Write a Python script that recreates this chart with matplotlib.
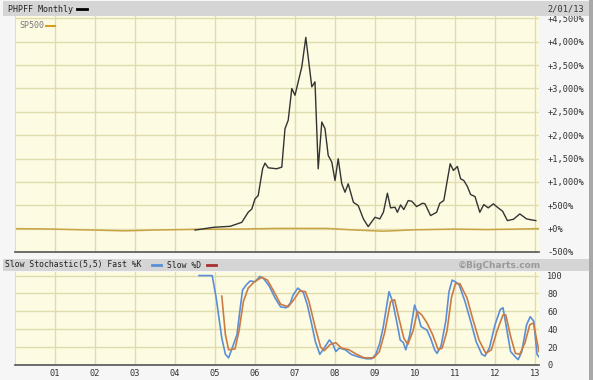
import matplotlib
matplotlib.use("Agg")
import matplotlib.pyplot as plt
from matplotlib.patches import Rectangle
from matplotlib.ticker import FixedLocator, FuncFormatter

# PHPFF monthly, % change
phpff_t = [2004.50, 2004.96, 2005.38, 2005.67, 2005.83, 2005.92, 2006.00, 2006.08,
           2006.19, 2006.25, 2006.33, 2006.54, 2006.67, 2006.75, 2006.83, 2006.92,
           2007.00, 2007.17, 2007.27, 2007.42, 2007.50, 2007.58, 2007.67, 2007.75,
           2007.83, 2007.92, 2008.00, 2008.08, 2008.17, 2008.25, 2008.33, 2008.46,
           2008.58, 2008.71, 2008.83, 2009.00, 2009.12, 2009.21, 2009.31, 2009.39,
           2009.50, 2009.56, 2009.64, 2009.72, 2009.83, 2009.92, 2010.04, 2010.19,
           2010.25, 2010.39, 2010.54, 2010.62, 2010.72, 2010.88, 2010.96, 2011.06,
           2011.14, 2011.22, 2011.31, 2011.39, 2011.50, 2011.62, 2011.72, 2011.83,
           2011.96, 2012.06, 2012.19, 2012.31, 2012.46, 2012.62, 2012.79, 2012.92,
           2013.02]
phpff_v = [-30, 28, 50, 135, 350, 420, 637, 708,
           1281, 1402, 1302, 1281, 1316, 2140, 2318, 2998,
           2854, 3462, 4092, 3034, 3140, 1281, 2281, 2140,
           1567, 1423, 1030, 1495, 959, 779, 959, 564,
           494, 208, 43, 243, 208, 350, 758, 444,
           458, 350, 508, 408, 601, 586, 472, 543,
           530, 279, 350, 543, 601, 1388, 1245, 1330,
           1066, 1030, 901, 730, 687, 350, 515, 444,
           530, 458, 372, 172, 200, 315, 208, 186,
           172]

# S&P 500 comparison, % change
sp_t = [2000.0, 2000.7, 2001.7, 2002.75, 2003.5, 2004.5, 2005.5, 2006.5, 2007.8,
        2008.5, 2009.2, 2010.0, 2011.0, 2011.8, 2012.5, 2013.08]
sp_v = [0, -5, -25, -48, -30, -15, -10, 5, 5, -30, -55, -25, -10, -20, -10, 0]

# slow stochastic (5,5)
k_t = [2004.60, 2004.93, 2005.03, 2005.17, 2005.26, 2005.34, 2005.43, 2005.55, 2005.62,
       2005.69, 2005.79, 2005.88, 2006.00, 2006.12, 2006.21, 2006.36, 2006.50, 2006.64,
       2006.78, 2006.88, 2006.95, 2007.07, 2007.21, 2007.31, 2007.42, 2007.51, 2007.62,
       2007.73, 2007.86, 2007.95, 2008.02, 2008.11, 2008.26, 2008.40, 2008.59, 2008.78,
       2008.92, 2009.02, 2009.11, 2009.20, 2009.35, 2009.44, 2009.54, 2009.63, 2009.71,
       2009.77, 2009.87, 2009.99, 2010.06, 2010.15, 2010.30, 2010.39, 2010.49, 2010.55,
       2010.65, 2010.77, 2010.85, 2010.93, 2011.01, 2011.10, 2011.25, 2011.39, 2011.53,
       2011.67, 2011.75, 2011.86, 2012.00, 2012.13, 2012.20, 2012.29, 2012.39, 2012.53,
       2012.58, 2012.67, 2012.79, 2012.88, 2012.97, 2013.05, 2013.12]
k_v = [100, 100, 75, 30, 12, 8, 19, 34, 60,
       84, 90, 94, 93, 99, 97, 88, 75, 65,
       64, 69, 78, 86, 81, 67, 45, 26, 12,
       19, 28, 23, 15, 19, 17, 12, 9, 7,
       7, 12, 23, 41, 82, 71, 49, 28, 25,
       17, 34, 67, 58, 43, 39, 30, 17, 13,
       21, 49, 82, 95, 93, 90, 71, 49, 26,
       12, 10, 19, 45, 62, 64, 41, 15, 8,
       6, 15, 45, 54, 49, 12, 8]
d_t = [2005.17, 2005.26, 2005.34, 2005.50, 2005.60, 2005.71, 2005.83, 2005.98, 2006.17,
       2006.31, 2006.45, 2006.64, 2006.83, 2006.97, 2007.12, 2007.26, 2007.35, 2007.50,
       2007.64, 2007.73, 2007.88, 2008.02, 2008.16, 2008.35, 2008.54, 2008.73, 2008.97,
       2009.11, 2009.24, 2009.39, 2009.49, 2009.60, 2009.72, 2009.82, 2009.95, 2010.06,
       2010.17, 2010.30, 2010.44, 2010.58, 2010.68, 2010.80, 2010.91, 2011.01, 2011.12,
       2011.30, 2011.44, 2011.60, 2011.77, 2011.91, 2012.05, 2012.20, 2012.27, 2012.39,
       2012.51, 2012.62, 2012.75, 2012.87, 2012.96, 2013.10]
d_v = [77, 34, 17, 18, 38, 71, 86, 93, 98,
       95, 84, 68, 65, 73, 83, 82, 71, 43,
       20, 16, 23, 25, 19, 17, 12, 8, 8,
       15, 36, 71, 73, 52, 30, 23, 38, 60,
       56, 47, 34, 17, 19, 38, 75, 91, 91,
       75, 52, 28, 13, 17, 38, 56, 56, 32,
       13, 12, 25, 45, 47, 15]

year_ticks = [2001, 2002, 2003, 2004, 2005, 2006, 2007, 2008, 2009, 2010, 2011, 2012, 2013]
year_labels = ['01', '02', '03', '04', '05', '06', '07', '08', '09', '10', '11', '12', '13']
pct_ticks = [-500, 0, 500, 1000, 1500, 2000, 2500, 3000, 3500, 4000, 4500]
sto_ticks = [0, 20, 40, 60, 80, 100]

W, H = 593, 380
bg = '#fdfce3'
grid_c = '#e0dcae'
hdr_c = '#d5d5d5'
mono = 'DejaVu Sans Mono'

fig = plt.figure(figsize=(W / 100, H / 100), dpi=100)
fig.patch.set_facecolor('#f6f6f6')

def fx(px):
    return px / W

def fy(py):
    return 1 - py / H

# header bars
fig.add_artist(Rectangle((fx(3), fy(16)), fx(587), 15 / H, transform=fig.transFigure,
                         facecolor=hdr_c, edgecolor='none'))
fig.add_artist(Rectangle((fx(3), fy(271)), fx(587), 12 / H, transform=fig.transFigure,
                         facecolor=hdr_c, edgecolor='none'))
# right grey border
fig.add_artist(Rectangle((fx(589), 0), fx(4), 1, transform=fig.transFigure,
                         facecolor='#a8a8a8', edgecolor='none'))

ax = fig.add_axes([fx(15), fy(252), fx(524), 236 / H])
ax2 = fig.add_axes([fx(15), fy(365), fx(524), 93 / H])

for a in (ax, ax2):
    a.set_facecolor(bg)
    a.set_xlim(2000.0, 2013.1)
    a.xaxis.set_major_locator(FixedLocator(year_ticks))
    a.grid(True, color=grid_c, linewidth=1.0)
    a.set_axisbelow(True)
    a.yaxis.tick_right()
    a.tick_params(length=0, labelsize=6.2, colors='#333333', pad=6)
    for lab in a.get_yticklabels() + a.get_xticklabels():
        lab.set_family(mono)
    for s in ('top', 'right'):
        a.spines[s].set_visible(False)
    a.spines['left'].set_color('#dddddd')
    a.spines['bottom'].set_color('#555555')
    a.spines['bottom'].set_linewidth(1.2)

ax.plot(sp_t, sp_v, color='#c8a445', linewidth=1.1)
ax.plot(phpff_t, phpff_v, color='#333333', linewidth=1.0)
ax.set_ylim(-500, 4550)
ax.yaxis.set_major_locator(FixedLocator(pct_ticks))
ax.yaxis.set_major_formatter(FuncFormatter(
    lambda v, p: ('+' if v >= 0 else '-') + '{:,.0f}%'.format(abs(v))))
ax.set_xticklabels([])

ax2.plot(k_t, k_v, color='#5a8fd8', linewidth=1.2)
ax2.plot(d_t, d_v, color='#cc7a45', linewidth=1.2)
ax2.set_ylim(0, 104)
ax2.yaxis.set_major_locator(FixedLocator(sto_ticks))
ax2.set_xticklabels(year_labels)
ax2.tick_params(axis='x', pad=3)

# header texts
fig.text(fx(8), fy(9), 'PHPFF Monthly', fontsize=6, family=mono, color='#222222', va='center')
fig.add_artist(plt.Line2D([fx(77), fx(87)], [fy(9), fy(9)], color='black', linewidth=2))
fig.text(fx(584), fy(9), '2/01/13', fontsize=6.2, family=mono, color='#333333', va='center', ha='right')
fig.text(fx(19), fy(26), 'SP500', fontsize=6, family=mono, color='#777777', va='center')
fig.add_artist(plt.Line2D([fx(46), fx(55)], [fy(26), fy(26)], color='#d4a020', linewidth=1.5))

fig.text(fx(5), fy(265), 'Slow Stochastic(5,5) Fast %K', fontsize=5.9, family=mono,
         color='#222222', va='center')
fig.add_artist(plt.Line2D([fx(152), fx(161)], [fy(265), fy(265)], color='#5a8fd8', linewidth=2))
fig.text(fx(167), fy(265), 'Slow %D', fontsize=5.9, family=mono, color='#222222', va='center')
fig.add_artist(plt.Line2D([fx(207), fx(216)], [fy(265), fy(265)], color='#a83030', linewidth=2))
fig.text(fx(541), fy(265), '\u00a9BigCharts.com', fontsize=6.5, family='DejaVu Sans',
         weight='bold', color='#999999', va='center', ha='right')

fig.savefig('out.png', dpi=100, facecolor=fig.get_facecolor())
